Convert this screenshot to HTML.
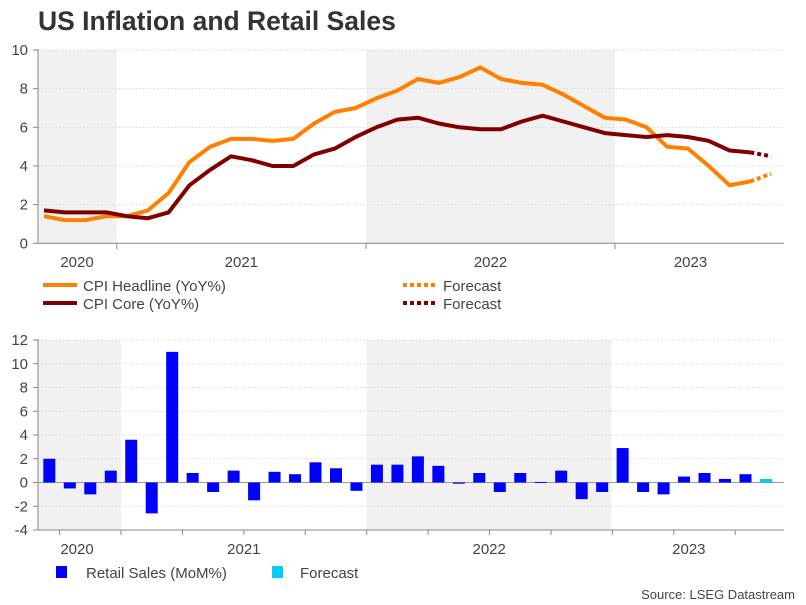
<!DOCTYPE html>
<html><head><meta charset="utf-8"><style>
body{margin:0;background:#fff;}
svg{display:block;font-family:"Liberation Sans",Arial,sans-serif;}
</style></head><body>
<svg id="c" width="806" height="605" viewBox="0 0 806 605" xmlns="http://www.w3.org/2000/svg">
<text x="38" y="30" font-size="26.5" font-weight="bold" fill="#333">US Inflation and Retail Sales</text>
<g id="top"></g>
<g id="bot"></g>
<g>
<line x1="43" y1="285" x2="77" y2="285" stroke="#ff7f00" stroke-width="4"/>
<text x="83" y="291" font-size="15" fill="#444">CPI Headline (YoY%)</text>
<line x1="43" y1="303" x2="77" y2="303" stroke="#800000" stroke-width="4"/>
<text x="83" y="309" font-size="15" fill="#444">CPI Core (YoY%)</text>
<line x1="403" y1="285" x2="437" y2="285" stroke="#ff7f00" stroke-width="4" stroke-dasharray="4 3"/>
<text x="443" y="291" font-size="15" fill="#444">Forecast</text>
<line x1="403" y1="303" x2="437" y2="303" stroke="#800000" stroke-width="4" stroke-dasharray="4 3"/>
<text x="443" y="309" font-size="15" fill="#444">Forecast</text>
</g>
<g>
<rect x="56" y="566" width="11" height="12" fill="#0000ff"/>
<text x="86" y="578" font-size="15" fill="#444">Retail Sales (MoM%)</text>
<rect x="272" y="566" width="11" height="12" fill="#00ccff"/>
<text x="300" y="578" font-size="15" fill="#444">Forecast</text>
</g>
<text x="795" y="599" font-size="13" fill="#444" text-anchor="end">Source: LSEG Datastream</text>
</svg>
<script>
// Months Sep 2020 .. Aug 2023 (36)
const headline = [1.4,1.2,1.2,1.4,1.4,1.7,2.6,4.2,5.0,5.4,5.4,5.3,5.4,6.2,6.8,7.0,7.5,7.9,8.5,8.3,8.6,9.1,8.5,8.3,8.2,7.7,7.1,6.5,6.4,6.0,5.0,4.9,4.0,3.0,3.2,3.6];
const core = [1.7,1.6,1.6,1.6,1.4,1.3,1.6,3.0,3.8,4.5,4.3,4.0,4.0,4.6,4.9,5.5,6.0,6.4,6.5,6.2,6.0,5.9,5.9,6.3,6.6,6.3,6.0,5.7,5.6,5.5,5.6,5.5,5.3,4.8,4.7,4.5];
const retail = [2.0,-0.5,-1.0,1.0,3.6,-2.6,11.0,0.8,-0.8,1.0,-1.5,0.9,0.7,1.7,1.2,-0.7,1.5,1.5,2.2,1.4,-0.1,0.8,-0.8,0.8,0.05,1.0,-1.4,-0.8,2.9,-0.8,-1.0,0.5,0.8,0.3,0.7,0.3];
const forecastCount = 1; // last point(s) are forecast
const years = ["2020","2021","2022","2023"];
const topTicks = [0,2,4,6,8,10];
const botTicks = [-4,-2,0,2,4,6,8,10,12];

const NS="http://www.w3.org/2000/svg";
function mk(p,tag,a){const e=document.createElementNS(NS,tag);for(const k in a)e.setAttribute(k,a[k]);p.appendChild(e);return e;}

function drawFrame(g, cfg){
  const {L,R,T,B,b21,b22,b23,vmin,vmax,ticks} = cfg;
  const y = v => B - (v-vmin)/(vmax-vmin)*(B-T);
  const pm = (b22-b21)/12;
  const x = i => b21 + (i-4+0.5)*pm;
  let r=mk(g,'rect',{x:L,y:T,width:b21-L,height:B-T,fill:'#f1f1f1'});
  
  
  r=mk(g,'rect',{x:b22,y:T,width:b23-b22,height:B-T,fill:'#f1f1f1'});
  
  
  ticks.forEach(t=>{
    if(t!==cfg.vmin){
      const gl=mk(g,'line',{x1:L,x2:R,y1:y(t),y2:y(t),stroke:'#d8d8d8','stroke-dasharray':'1.5 2'});
      
      
    }
    mk(g,'line',{x1:L-5,x2:L,y1:y(t),y2:y(t),stroke:'#888'});
    const tx=mk(g,'text',{x:L-10,y:y(t)+5,'font-size':15,fill:'#444','text-anchor':'end'});
    tx.textContent=t;
    
    
  });
  mk(g,'line',{x1:L,x2:L,y1:T-1,y2:B,stroke:'#888'});
  mk(g,'line',{x1:L,x2:R,y1:B,y2:B,stroke:'#888'});
  const bounds=[L,b21,b22,b23,R];
  years.forEach((yr,k)=>{
    const cx=k===0?77:k===3?(b23+R)/2-9:(bounds[k]+bounds[k+1])/2;
    const tx=mk(g,'text',{x:cx,y:cfg.labY,'font-size':15,fill:'#444','text-anchor':'middle'});
    tx.textContent=yr;
    
    
  });
  return {x,y,pm};
}

// top chart
const tg=document.getElementById('top');
const T=drawFrame(tg,{L:38,R:784,T:50,B:243.3,b21:116.7,b22:366,b23:615,vmin:0,vmax:10,ticks:topTicks,labY:267});
[116.7,366,615].forEach(bx=>mk(tg,'line',{x1:bx,x2:bx,y1:243.3,y2:249,stroke:'#888'}));
function line(g,data,color,name){
  const n=data.length, fc=n-1-forecastCount;
  const pts=data.map((v,i)=>T.x(i).toFixed(1)+','+T.y(v).toFixed(1));
  const p=mk(g,'polyline',{points:pts.slice(0,fc+1).join(' '),fill:'none',stroke:color,'stroke-width':4,'stroke-linejoin':'round'});
  
  
  const f=mk(g,'polyline',{points:pts.slice(fc).join(' '),fill:'none',stroke:color,'stroke-width':4,'stroke-dasharray':'4 3'});
  
  
}
line(tg,headline,'#ff7f00','cpi-headline');
line(tg,core,'#800000','cpi-core');

// bottom chart
const bg=document.getElementById('bot');
const Bf=drawFrame(bg,{L:38,R:784,T:340,B:530,b21:121,b22:366.7,b23:611.7,vmin:-4,vmax:12,ticks:botTicks,labY:554});
for(let q=-1;q<12;q++){
  const bx=121+q*3*Bf.pm;
  if(bx>38&&bx<784) mk(bg,'line',{x1:bx,x2:bx,y1:530,y2:535,stroke:'#888'});
}
mk(bg,'line',{x1:38,x2:784,y1:Bf.y(0),y2:Bf.y(0),stroke:'#999'});
retail.forEach((v,i)=>{
  const y0=Bf.y(0), y1=Bf.y(v);
  const fc=i>=retail.length-forecastCount;
  const r=mk(bg,'rect',{x:Bf.x(i)-6,y:Math.min(y0,y1),width:12,height:Math.max(1,Math.abs(y1-y0)),fill:fc?'#00ccff':'#0000ff'});
  
  
});
</script>
</body></html>
